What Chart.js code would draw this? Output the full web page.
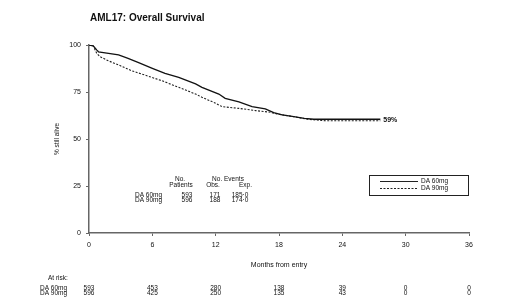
<!DOCTYPE html>
<html>
<head>
<meta charset="utf-8">
<script src="https://cdn.jsdelivr.net/npm/chart.js@4"></script>
<style>
  html, body { margin: 0; padding: 0; background: #fff; }
  #wrap { width: 520px; height: 306px; }
</style>
</head>
<body>
<div id="wrap"><canvas id="km" width="520" height="306"></canvas></div>
<script>
// values (months, % alive)
var months60 = [0, 0.4, 0.75, 0.9, 1.85, 2.8, 3.7, 4.7, 6.0, 7.2, 8.5, 10.1, 10.7, 12.3, 12.9, 14.2, 15.45, 16.7, 17.5, 18.3, 19.4, 20.4, 21.3, 27.6];
var alive60 = [100, 99.5, 97.3, 96.4, 95.6, 94.7, 92.9, 90.6, 87.6, 84.9, 82.8, 79.3, 77.5, 73.9, 71.6, 69.8, 67.2, 66.0, 64.0, 62.8, 61.9, 61.0, 60.5, 60.5];
var months90 = [0, 0.4, 0.73, 1.04, 1.83, 2.8, 4.05, 5.3, 6.9, 8.5, 10.1, 10.7, 12.0, 12.6, 14.2, 15.8, 17.2, 17.8, 19.4, 20.7, 22.4, 27.6];
var alive90 = [100, 99.5, 95.6, 93.8, 91.6, 89.4, 86.3, 84.0, 81.0, 77.5, 73.9, 72.2, 69.0, 67.2, 66.3, 65.1, 64.2, 63.3, 61.9, 60.5, 59.7, 59.7];

var armNames = ["DA 60mg", "DA 90mg"];
var patients = ["593", "596"];
var obsEvents = ["171", "188"];
var expEvents = ["185·0", "174·0"];

var riskMonths = [0, 6, 12, 18, 24, 30, 36];
var atRisk60 = [593, 453, 280, 138, 39, 0, 0];
var atRisk90 = [596, 425, 250, 135, 43, 0, 0];

var endLabel = "59%";

function toPoints(xs, ys) {
    var pts = [];
    for (var i = 0; i < xs.length; i++) pts.push({x: xs[i], y: ys[i]});
    return pts;
}

var FONT = "'Liberation Sans', Arial, sans-serif";

var extras = {
    id: 'extras',
    afterDraw: function(chart) {
        var ctx = chart.ctx;
        var xs = chart.scales.x, ys = chart.scales.y;
        ctx.save();
        ctx.fillStyle = '#111';

        // title
        ctx.font = 'bold 10px ' + FONT;
        ctx.textAlign = 'left';
        ctx.textBaseline = 'middle';
        ctx.fillText('AML17: Overall Survival', 90, 18);

        // y title
        ctx.save();
        ctx.font = '6.5px ' + FONT;
        ctx.translate(57, 139);
        ctx.rotate(-Math.PI / 2);
        ctx.textAlign = 'center';
        ctx.fillText('% still alive', 0, 0);
        ctx.restore();

        // end label
        ctx.font = 'bold 7px ' + FONT;
        ctx.textAlign = 'left';
        var lx = xs.getPixelForValue(months60[months60.length - 1]);
        ctx.fillText(endLabel, lx + 3, ys.getPixelForValue(60.1));

        // stats table
        ctx.font = '6.5px ' + FONT;
        ctx.textAlign = 'center';
        ctx.fillText('No.', 180, 179);
        ctx.fillText('Patients', 181, 185);
        ctx.fillText('No. Events', 228, 179);
        ctx.fillText('Obs.', 213, 185);
        ctx.textAlign = 'right';
        ctx.fillText('Exp.', 252, 185);
        for (var r = 0; r < 2; r++) {
            var yy = 195 + r * 5.5;
            ctx.textAlign = 'left';
            ctx.fillText(armNames[r], 135, yy);
            ctx.textAlign = 'center';
            ctx.fillText(patients[r], 187, yy);
            ctx.fillText(obsEvents[r], 215, yy);
            ctx.fillText(expEvents[r], 240, yy);
        }

        // legend box
        ctx.strokeStyle = '#222';
        ctx.lineWidth = 1;
        ctx.strokeRect(369.5, 175.5, 99, 20);
        ctx.lineWidth = 1;
        ctx.beginPath();
        ctx.moveTo(380, 181.5); ctx.lineTo(418, 181.5);
        ctx.stroke();
        ctx.setLineDash([2, 1.5]);
        ctx.beginPath();
        ctx.moveTo(380, 188.5); ctx.lineTo(418, 188.5);
        ctx.stroke();
        ctx.setLineDash([]);
        ctx.textAlign = 'left';
        ctx.fillText(armNames[0], 421, 181.5);
        ctx.fillText(armNames[1], 421, 188.5);

        // axis title
        ctx.font = '7px ' + FONT;
        ctx.textAlign = 'center';
        ctx.fillText('Months from entry', (xs.left + xs.right) / 2, 265);

        // at risk
        ctx.font = '6.5px ' + FONT;
        ctx.textAlign = 'left';
        ctx.fillText('At risk:', 48, 278);
        ctx.fillText(armNames[0], 40, 288);
        ctx.fillText(armNames[1], 40, 293.5);
        ctx.textAlign = 'center';
        for (var i = 0; i < riskMonths.length; i++) {
            var px = xs.getPixelForValue(riskMonths[i]);
            ctx.fillText(String(atRisk60[i]), px, 288);
            ctx.fillText(String(atRisk90[i]), px, 293.5);
        }
        ctx.restore();
    }
};

var chart = new Chart(document.getElementById('km'), {
    type: 'line',
    data: {
        datasets: [{
            label: armNames[0],
            data: toPoints(months60, alive60),
            borderColor: '#111',
            borderWidth: 1.3,
            pointRadius: 0,
            tension: 0
        }, {
            label: armNames[1],
            data: toPoints(months90, alive90),
            borderColor: '#222',
            borderWidth: 1.1,
            borderDash: [2, 1.5],
            pointRadius: 0,
            tension: 0
        }]
    },
    options: {
        responsive: false,
        animation: false,
        events: [],
        layout: { padding: { left: 64, right: 51, top: 45, bottom: 0 } },
        plugins: { legend: { display: false }, tooltip: { enabled: false } },
        scales: {
            x: {
                type: 'linear',
                min: 0, max: 36,
                afterFit: function(s) { s.height = 73; },
                border: { display: true, color: '#666', width: 1.5 },
                grid: { drawOnChartArea: false, drawTicks: true, tickLength: 3, color: '#666' },
                ticks: { stepSize: 6, padding: 5, color: '#111', font: { family: FONT, size: 7 } }
            },
            y: {
                min: 0, max: 100,
                afterFit: function(s) { s.width = 25; },
                border: { display: true, color: '#666', width: 1.5 },
                grid: { drawOnChartArea: false, drawTicks: true, tickLength: 3, color: '#666' },
                ticks: { stepSize: 25, padding: 5, color: '#111', font: { family: FONT, size: 7 } }
            }
        }
    },
    plugins: [extras]
});
</script>
</body>
</html>
